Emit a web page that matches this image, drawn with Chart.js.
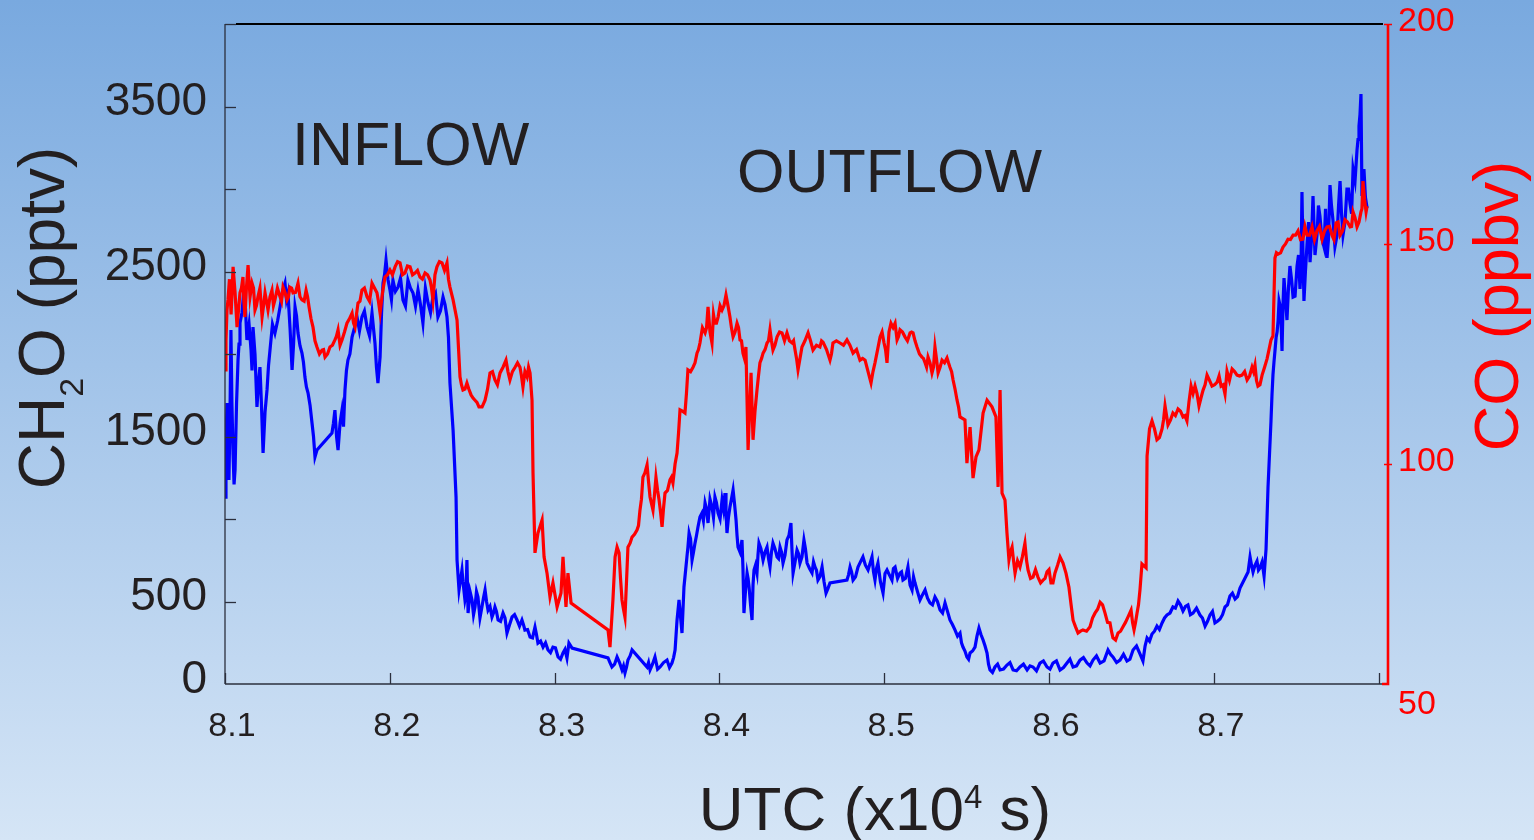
<!DOCTYPE html>
<html>
<head>
<meta charset="utf-8">
<script src="https://cdn.jsdelivr.net/npm/chart.js@4.4.1/dist/chart.umd.min.js"></script>
<style>
  html, body { margin: 0; padding: 0; }
  body {
    width: 1534px; height: 840px; overflow: hidden;
    background: linear-gradient(to bottom, #79a9df 0%, #d5e5f6 100%);
  }
  canvas { display: block; }
</style>
</head>
<body>
<canvas id="myChart" width="1534" height="840"></canvas>
<script>
// UTC in units of 10^4 s
const ch2oTime = [
  8.1000, 8.1012, 8.1024, 8.1036, 8.1049, 8.1061, 8.1079, 8.1091, 8.1115, 8.1133,
  8.1158, 8.1170, 8.1194, 8.1212, 8.1231, 8.1255, 8.1273, 8.1303, 8.1334, 8.1364,
  8.1382, 8.1407, 8.1425, 8.1443, 8.1467, 8.1485, 8.1504, 8.1528, 8.1546, 8.1558,
  8.1649, 8.1667, 8.1686, 8.1710, 8.1728, 8.1746, 8.1771, 8.1801, 8.1831, 8.1862,
  8.1892, 8.1910, 8.1928, 8.1941, 8.1959, 8.1977, 8.2001, 8.2019, 8.2050, 8.2080,
  8.2110, 8.2141, 8.2171, 8.2201, 8.2232, 8.2262, 8.2292, 8.2323, 8.2347, 8.2365,
  8.2384, 8.2402, 8.2408, 8.2420, 8.2438, 8.2456, 8.2468, 8.2475, 8.2499, 8.2517,
  8.2535, 8.2559, 8.2578, 8.2596, 8.2620, 8.2638, 8.2657, 8.2687, 8.2711, 8.2742,
  8.2772, 8.2802, 8.2820, 8.2851, 8.2881, 8.2899, 8.2930, 8.2960, 8.2990, 8.3021,
  8.3051, 8.3075, 8.3087, 8.3106, 8.3324, 8.3348, 8.3379, 8.3409, 8.3427, 8.3445,
  8.3470, 8.3561, 8.3579, 8.3609, 8.3640, 8.3682, 8.3712, 8.3731, 8.3743, 8.3755,
  8.3773, 8.3785, 8.3803, 8.3816, 8.3834, 8.3852, 8.3870, 8.3894, 8.3913, 8.3931,
  8.3955, 8.3973, 8.3992, 8.4016, 8.4034, 8.4046, 8.4064, 8.4083, 8.4101, 8.4113,
  8.4137, 8.4149, 8.4168, 8.4180, 8.4198, 8.4210, 8.4228, 8.4240, 8.4265, 8.4289,
  8.4307, 8.4325, 8.4350, 8.4368, 8.4386, 8.4410, 8.4434, 8.4447, 8.4471, 8.4489,
  8.4513, 8.4532, 8.4562, 8.4580, 8.4598, 8.4623, 8.4647, 8.4671, 8.4774, 8.4793,
  8.4811, 8.4841, 8.4871, 8.4902, 8.4926, 8.4944, 8.4962, 8.4993, 8.5017, 8.5047,
  8.5066, 8.5096, 8.5114, 8.5144, 8.5169, 8.5187, 8.5217, 8.5248, 8.5278, 8.5308,
  8.5339, 8.5369, 8.5399, 8.5430, 8.5460, 8.5478, 8.5502, 8.5521, 8.5551, 8.5575,
  8.5600, 8.5624, 8.5642, 8.5672, 8.5703, 8.5745, 8.5782, 8.5824, 8.5867, 8.5903,
  8.5945, 8.5988, 8.6024, 8.6067, 8.6109, 8.6146, 8.6188, 8.6231, 8.6267, 8.6310,
  8.6358, 8.6388, 8.6431, 8.6473, 8.6510, 8.6552, 8.6570, 8.6595, 8.6625, 8.6655,
  8.6686, 8.6716, 8.6752, 8.6783, 8.6813, 8.6843, 8.6874, 8.6916, 8.6947, 8.6977,
  8.7007, 8.7038, 8.7068, 8.7098, 8.7129, 8.7159, 8.7208, 8.7220, 8.7238, 8.7262,
  8.7280, 8.7305, 8.7317, 8.7329, 8.7347, 8.7359, 8.7371, 8.7384, 8.7396, 8.7414,
  8.7426, 8.7444, 8.7462, 8.7481, 8.7505, 8.7523, 8.7535, 8.7547, 8.7566, 8.7584,
  8.7602, 8.7626, 8.7644, 8.7669, 8.7687, 8.7705, 8.7723, 8.7748, 8.7766, 8.7784,
  8.7808, 8.7827, 8.7845, 8.7869, 8.7881, 8.7893, 8.7899, 8.7911, 8.7930
];
// CH2O, pptv
const ch2o = [
  1133, 1703, 1236, 2145, 1388, 1297, 1963, 2188, 2388, 2085,
  2024, 2163, 1679, 1921, 1400, 1782, 2024, 2127, 2285, 2430,
  2369, 1903, 2285, 2127, 2006, 1860, 1763, 1582, 1376, 1418,
  1521, 1660, 1418, 1660, 1782, 1963, 2103, 2224, 2224, 2163,
  2248, 2066, 1824, 1982, 2430, 2569, 2388, 2448, 2406, 2327,
  2448, 2369, 2388, 2188, 2309, 2345, 2224, 2345, 2224, 1824,
  1539, 1133, 751, 570, 691, 509, 751, 430, 509, 467,
  527, 467, 570, 448, 406, 467, 388, 430, 309, 406,
  388, 388, 327, 285, 345, 248, 224, 206, 224, 164,
  188, 158, 248, 218, 158, 103, 164, 85, 67, 145,
  206, 103, 85, 164, 103, 145, 127, 206, 388, 509,
  309, 588, 770, 915, 751, 854, 951, 1036, 1097, 976,
  1073, 1133, 1036, 1115, 1157, 915, 1073, 1176, 994, 830,
  873, 430, 673, 588, 388, 691, 673, 854, 751, 830,
  709, 854, 770, 830, 733, 873, 976, 673, 812, 733,
  873, 733, 673, 709, 630, 709, 551, 612, 630, 709,
  630, 709, 770, 691, 770, 630, 733, 551, 691, 630,
  709, 673, 630, 709, 570, 612, 509, 570, 491, 527,
  448, 491, 388, 327, 309, 224, 164, 188, 224, 339,
  267, 188, 85, 103, 85, 115, 85, 103, 85, 103,
  127, 103, 127, 85, 127, 103, 145, 127, 145, 127,
  206, 164, 145, 139, 206, 182, 139, 279, 303, 351,
  370, 418, 467, 503, 442, 479, 430, 418, 351, 418,
  370, 394, 467, 533, 515, 582, 679, 770, 679, 745,
  703, 654, 818, 1194, 1594, 1873, 2018, 2133, 2321, 2018,
  2460, 2206, 2533, 2345, 2533, 2394, 2982, 2321, 2672, 2557,
  2957, 2721, 2836, 2648, 2582, 3024, 2812, 2721, 3048, 2721,
  3000, 2909, 3121, 3236, 3381, 3575, 2957, 3121, 2885
];
// extra CH2O readings from the noisy stretches
const ch2oFineTime = [
  8.1006, 8.1030, 8.1042, 8.1055, 8.1070, 8.1085, 8.1103, 8.1124, 8.1146, 8.1164,
  8.1182, 8.1203, 8.1221, 8.1243, 8.1264, 8.1288, 8.1319, 8.1349, 8.1373, 8.1395,
  8.1416, 8.1434, 8.1455, 8.1476, 8.1494, 8.1516, 8.1537,
  8.1658, 8.1677, 8.1698, 8.1719, 8.1737, 8.1758, 8.1786, 8.1816, 8.1846, 8.1877,
  8.1919, 8.1950, 8.1968, 8.1989, 8.2010, 8.2034, 8.2065, 8.2095, 8.2125, 8.2156,
  8.2186, 8.2216, 8.2247, 8.2277, 8.2307, 8.2335, 8.2356,
  8.2444, 8.2462, 8.2487, 8.2508, 8.2526, 8.2547, 8.2568, 8.2587, 8.2608, 8.2629,
  8.2647, 8.2672, 8.2699, 8.2727, 8.2757, 8.2787, 8.2811, 8.2836, 8.2866, 8.2890,
  8.2915, 8.2945, 8.2975, 8.3005, 8.3036, 8.3063,
  8.3336, 8.3364, 8.3394, 8.3418, 8.3436, 8.3458, 8.3570, 8.3594, 8.3625, 8.3661,
  8.3697, 8.3722,
  8.3809, 8.3825, 8.3843, 8.3861, 8.3882, 8.3903, 8.3922, 8.3943, 8.3964, 8.3982,
  8.4004, 8.4025, 8.4040, 8.4055, 8.4073, 8.4092, 8.4107, 8.4125, 8.4143, 8.4158,
  8.4174, 8.4189, 8.4204, 8.4219, 8.4234, 8.4252, 8.4277, 8.4298, 8.4316, 8.4337,
  8.4359, 8.4377, 8.4398, 8.4422, 8.4440, 8.4459, 8.4480, 8.4501, 8.4522, 8.4547,
  8.4571, 8.4589, 8.4610, 8.4635, 8.4659,
  8.4783, 8.4802, 8.4826, 8.4856, 8.4886, 8.4914, 8.4935, 8.4953, 8.4977, 8.5005,
  8.5032, 8.5056, 8.5081, 8.5105, 8.5129, 8.5157, 8.5178, 8.5202, 8.5232, 8.5263,
  8.5293, 8.5323, 8.5354, 8.5384, 8.5414, 8.5445, 8.5469, 8.5490, 8.5512, 8.5536,
  8.5563, 8.5587, 8.5612, 8.5633,
  8.5657, 8.5688, 8.5724, 8.5763, 8.5803, 8.5845, 8.5885, 8.5924, 8.5966, 8.6006,
  8.6045, 8.6088, 8.6127, 8.6167, 8.6209, 8.6249, 8.6288, 8.6334, 8.6373, 8.6410,
  8.6452, 8.6491, 8.6531, 8.6583, 8.6610, 8.6640, 8.6670, 8.6701, 8.6734, 8.6767,
  8.6798, 8.6828, 8.6858, 8.6895, 8.6931, 8.6962, 8.6992, 8.7022, 8.7053, 8.7083,
  8.7113, 8.7144, 8.7229, 8.7250, 8.7271, 8.7293,
  8.7353, 8.7365, 8.7378, 8.7390, 8.7405, 8.7420, 8.7435, 8.7453, 8.7472, 8.7493,
  8.7514, 8.7529, 8.7541, 8.7556, 8.7575, 8.7593, 8.7614, 8.7635, 8.7656, 8.7678,
  8.7696, 8.7714, 8.7735, 8.7757, 8.7775, 8.7796, 8.7817, 8.7836, 8.7857, 8.7875,
  8.7887, 8.7905, 8.7920
];
const ch2oFine = [
  1450, 1600, 1700, 1210, 1700, 2060, 2250, 2280, 2180, 1900,
  2000, 1820, 1700, 1650, 1930, 2180, 2200, 2380, 2330, 2150,
  2060, 2230, 2050, 1950, 1800, 1690, 1500,
  1580, 1500, 1580, 1560, 1900, 2000, 2160, 2140, 2260, 2110,
  1920, 2250, 2480, 2450, 2330, 2380, 2460, 2290, 2400, 2290,
  2300, 2400, 2250, 2370, 2260, 2300, 2100,
  620, 540, 560, 420, 560, 400, 520, 500, 470, 430,
  440, 380, 400, 360, 420, 350, 360, 330, 280, 300,
  260, 250, 190, 220, 150, 210,
  130, 120, 130, 110, 100, 170, 130, 120, 90, 130,
  100, 160,
  830, 880, 800, 900, 1012, 990, 1060, 1120, 1010, 1100,
  1000, 1060, 1050, 1010, 1120, 1090, 900, 800, 700, 560,
  640, 480, 600, 720, 780, 820, 800, 760, 800, 820,
  760, 800, 780, 900, 820, 740, 790, 770, 820, 700,
  740, 690, 650, 620, 580,
  660, 680, 650, 740, 720, 730, 680, 700, 620, 670,
  660, 700, 640, 680, 640, 600, 650, 560, 540, 520,
  480, 500, 430, 440, 360, 290, 250, 200, 150, 200,
  290, 300, 230, 120,
  70, 120, 90, 130, 80, 120, 110, 80, 140, 90,
  140, 100, 150, 110, 160, 110, 170, 140, 180, 130,
  180, 150, 230, 230, 260, 320, 330, 400, 430, 460,
  480, 470, 420, 460, 400, 380, 440, 380, 420, 480,
  550, 530, 720, 720, 690, 740,
  1750, 1950, 2100, 2200, 2280, 2300, 2330, 2400, 2450, 2350,
  2600, 2500, 2620, 2500, 2800, 2700, 2600, 2900, 2700, 2880,
  2700, 2900, 2650, 2900, 2850, 2800, 3000, 2850, 3050, 3300,
  3450, 3000, 2950
];

const coTime = [
  8.1000, 8.1018, 8.1049, 8.1073, 8.1091, 8.1109, 8.1121, 8.1140, 8.1164, 8.1182,
  8.1200, 8.1225, 8.1243, 8.1261, 8.1285, 8.1303, 8.1334, 8.1352, 8.1376, 8.1394,
  8.1413, 8.1443, 8.1467, 8.1492, 8.1510, 8.1534, 8.1558, 8.1589, 8.1607, 8.1637,
  8.1667, 8.1686, 8.1710, 8.1740, 8.1771, 8.1789, 8.1807, 8.1831, 8.1862, 8.1892,
  8.1922, 8.1941, 8.1971, 8.2001, 8.2032, 8.2062, 8.2092, 8.2123, 8.2153, 8.2183,
  8.2214, 8.2244, 8.2262, 8.2286, 8.2317, 8.2347, 8.2365, 8.2384, 8.2408, 8.2426,
  8.2444, 8.2468, 8.2493, 8.2517, 8.2541, 8.2578, 8.2608, 8.2638, 8.2669, 8.2705,
  8.2729, 8.2760, 8.2790, 8.2808, 8.2833, 8.2851, 8.2863, 8.2869, 8.2881, 8.2899,
  8.2924, 8.2936, 8.2954, 8.2972, 8.2990, 8.3015, 8.3039, 8.3051, 8.3069, 8.3081,
  8.3100, 8.3324, 8.3336, 8.3354, 8.3367, 8.3379, 8.3391, 8.3409, 8.3427, 8.3445,
  8.3470, 8.3500, 8.3518, 8.3536, 8.3561, 8.3579, 8.3597, 8.3615, 8.3634, 8.3652,
  8.3670, 8.3700, 8.3718, 8.3743, 8.3761, 8.3791, 8.3809, 8.3840, 8.3864, 8.3882,
  8.3913, 8.3931, 8.3955, 8.3973, 8.3992, 8.4016, 8.4040, 8.4064, 8.4083, 8.4107,
  8.4125, 8.4143, 8.4161, 8.4174, 8.4192, 8.4204, 8.4228, 8.4246, 8.4265, 8.4289,
  8.4307, 8.4325, 8.4350, 8.4380, 8.4410, 8.4441, 8.4459, 8.4477, 8.4501, 8.4538,
  8.4568, 8.4610, 8.4629, 8.4671, 8.4689, 8.4732, 8.4774, 8.4811, 8.4853, 8.4884,
  8.4920, 8.4944, 8.4975, 8.4999, 8.5017, 8.5041, 8.5066, 8.5078, 8.5096, 8.5126,
  8.5157, 8.5175, 8.5199, 8.5229, 8.5248, 8.5266, 8.5290, 8.5308, 8.5327, 8.5351,
  8.5381, 8.5399, 8.5418, 8.5442, 8.5460, 8.5490, 8.5502, 8.5521, 8.5539, 8.5557,
  8.5575, 8.5600, 8.5624, 8.5654, 8.5678, 8.5691, 8.5703, 8.5715, 8.5733, 8.5745,
  8.5757, 8.5776, 8.5794, 8.5824, 8.5854, 8.5873, 8.5903, 8.5933, 8.5964, 8.5988,
  8.6012, 8.6036, 8.6067, 8.6085, 8.6103, 8.6121, 8.6146, 8.6176, 8.6206, 8.6249,
  8.6279, 8.6310, 8.6340, 8.6370, 8.6388, 8.6419, 8.6449, 8.6479, 8.6498, 8.6516,
  8.6534, 8.6552, 8.6564, 8.6589, 8.6595, 8.6625, 8.6655, 8.6686, 8.6704, 8.6722,
  8.6752, 8.6783, 8.6813, 8.6837, 8.6862, 8.6886, 8.6910, 8.6935, 8.6959, 8.6989,
  8.7020, 8.7044, 8.7068, 8.7080, 8.7111, 8.7141, 8.7171, 8.7202, 8.7232, 8.7250,
  8.7268, 8.7293, 8.7323, 8.7347, 8.7359, 8.7371, 8.7390, 8.7420, 8.7450, 8.7481,
  8.7511, 8.7541, 8.7566, 8.7596, 8.7626, 8.7657, 8.7687, 8.7717, 8.7742, 8.7766,
  8.7796, 8.7827, 8.7845, 8.7869, 8.7893, 8.7905, 8.7924, 8.7930
];
// CO, ppbv
const co = [
  121.4, 137.3, 144.8, 131.1, 138.9, 142.5, 133.4, 145.2, 141.1, 135.0,
  138.0, 133.4, 138.9, 135.0, 139.5, 137.3, 138.0, 140.2, 137.3, 140.2,
  138.9, 141.1, 137.3, 139.5, 135.7, 131.1, 126.6, 125.9, 124.3, 126.6,
  128.2, 130.5, 128.2, 132.0, 134.3, 131.1, 136.6, 139.5, 138.0, 141.1,
  138.9, 134.3, 142.5, 144.1, 144.8, 145.7, 143.4, 144.8, 143.4, 142.5,
  143.4, 141.8, 137.3, 144.8, 145.7, 145.7, 140.2, 137.3, 132.7, 119.8,
  116.8, 118.4, 115.7, 114.5, 113.0, 114.5, 120.7, 119.1, 120.7, 123.6,
  119.1, 122.0, 122.0, 117.5, 119.8, 120.7, 114.5, 98.0, 79.8, 84.3,
  87.3, 78.9, 75.2, 69.8, 73.0, 67.5, 70.7, 78.9, 67.5, 75.2,
  68.4, 62.3, 58.4, 69.1, 78.9, 81.1, 79.8, 69.1, 65.2, 81.1,
  83.4, 85.0, 89.5, 97.0, 99.8, 92.5, 89.5, 97.0, 91.8, 85.7,
  93.4, 96.4, 95.7, 102.5, 112.3, 111.6, 121.4, 122.0, 125.2, 127.5,
  129.8, 135.7, 127.5, 132.0, 133.4, 135.0, 138.4, 133.4, 128.9, 132.0,
  128.2, 125.2, 126.6, 103.2, 120.7, 105.5, 116.8, 123.0, 125.2, 127.5,
  130.5, 125.9, 128.9, 129.8, 129.8, 127.5, 125.9, 121.4, 126.6, 129.8,
  125.9, 126.6, 127.7, 123.6, 127.5, 127.5, 128.2, 125.2, 123.6, 123.6,
  118.4, 123.0, 128.9, 127.5, 123.0, 132.0, 132.0, 128.2, 130.5, 128.9,
  129.8, 129.8, 126.6, 124.3, 123.0, 124.3, 120.7, 126.6, 120.7, 123.6,
  124.1, 122.0, 119.1, 114.5, 110.7, 110.0, 100.2, 108.4, 96.8, 101.6,
  103.2, 111.6, 114.5, 113.0, 110.7, 94.8, 116.8, 93.4, 91.8, 84.3,
  78.2, 81.1, 75.2, 76.6, 82.0, 75.9, 74.3, 74.3, 73.6, 75.5,
  73.0, 75.2, 78.9, 77.5, 75.2, 72.0, 64.5, 61.6, 62.3, 63.0,
  66.1, 68.6, 66.1, 63.9, 60.5, 61.6, 63.0, 65.2, 66.8, 62.3,
  66.1, 71.4, 77.3, 76.4, 101.8, 109.8, 105.5, 108.0, 113.2, 108.9,
  111.6, 112.5, 110.7, 109.8, 117.7, 117.7, 113.2, 116.8, 120.2, 117.7,
  118.6, 117.7, 115.9, 121.1, 121.6, 120.2, 120.2, 119.1, 122.0, 122.5,
  117.7, 120.2, 123.9, 128.2, 129.1, 146.8, 147.7, 149.3, 151.1, 152.0,
  153.0, 151.1, 152.0, 153.9, 153.0, 151.1, 153.9, 152.0, 154.8, 152.0,
  155.5, 153.9, 157.3, 153.9, 157.3, 164.3, 157.3, 158.6
];
// extra CO readings from the noisy stretches
const coFineTime = [
  8.1006, 8.1012, 8.1027, 8.1037, 8.1061, 8.1082, 8.1100, 8.1115, 8.1130, 8.1152,
  8.1173, 8.1191, 8.1212, 8.1234, 8.1252, 8.1273, 8.1294, 8.1318, 8.1343, 8.1364,
  8.1385, 8.1404, 8.1428, 8.1455, 8.1480, 8.1501, 8.1522, 8.1546, 8.1573, 8.1598,
  8.1622, 8.1652, 8.1676, 8.1698, 8.1725, 8.1755, 8.1780, 8.1798, 8.1819, 8.1846,
  8.1877, 8.1907, 8.1931, 8.1956, 8.1986, 8.2016, 8.2047, 8.2077, 8.2107, 8.2138,
  8.2168, 8.2198, 8.2229, 8.2253, 8.2274, 8.2301, 8.2332, 8.2356,
  8.2435, 8.2456, 8.2480, 8.2505, 8.2529, 8.2560, 8.2593, 8.2623, 8.2653, 8.2687,
  8.2717, 8.2744, 8.2775, 8.2799, 8.2820, 8.2842,
  8.3400, 8.3418, 8.3436, 8.3458, 8.3485, 8.3509, 8.3527, 8.3548, 8.3570, 8.3588,
  8.3606, 8.3625, 8.3643, 8.3661, 8.3685, 8.3709, 8.3731, 8.3752, 8.3776, 8.3800,
  8.3825, 8.3852, 8.3873, 8.3897, 8.3922, 8.3943, 8.3964, 8.3982, 8.4004, 8.4028,
  8.4052, 8.4073, 8.4095, 8.4116, 8.4134, 8.4152,
  8.4216, 8.4237, 8.4256, 8.4277, 8.4298, 8.4316, 8.4337, 8.4365, 8.4395, 8.4425,
  8.4450, 8.4468, 8.4489, 8.4519, 8.4553, 8.4589, 8.4620, 8.4650, 8.4680, 8.4710,
  8.4753, 8.4792, 8.4832, 8.4869, 8.4902, 8.4932, 8.4960, 8.4987, 8.5008, 8.5029,
  8.5054, 8.5087, 8.5111, 8.5141, 8.5166, 8.5187, 8.5214, 8.5238, 8.5257, 8.5278,
  8.5299, 8.5317, 8.5339, 8.5366, 8.5390, 8.5409, 8.5430, 8.5451,
  8.5766, 8.5785, 8.5809, 8.5839, 8.5864, 8.5888, 8.5918, 8.5949, 8.5976, 8.6000,
  8.6024, 8.6052, 8.6134, 8.6161, 8.6191, 8.6228, 8.6264, 8.6295, 8.6325, 8.6355,
  8.6379, 8.6404, 8.6434, 8.6464, 8.6507, 8.6525, 8.6543,
  8.6610, 8.6640, 8.6670, 8.6695, 8.6737, 8.6767, 8.6798, 8.6825, 8.6849, 8.6874,
  8.6898, 8.6922, 8.6947, 8.6974, 8.7005, 8.7032, 8.7056, 8.7095, 8.7126, 8.7156,
  8.7187, 8.7217, 8.7241, 8.7259, 8.7280, 8.7308, 8.7335,
  8.7380, 8.7405, 8.7435, 8.7465, 8.7496, 8.7526, 8.7553, 8.7581, 8.7611, 8.7641,
  8.7672, 8.7702, 8.7729, 8.7754, 8.7781, 8.7811, 8.7836, 8.7857, 8.7881, 8.7899,
  8.7915
];
const coFine = [
  128, 135, 142, 134, 139, 135, 140, 137, 140, 138,
  140, 136, 140, 136, 137, 138, 136, 140, 137, 139,
  138, 140, 139, 138, 137, 138, 133, 128, 125, 126,
  125, 127, 129, 127, 130, 133, 132, 134, 137, 140,
  137, 140, 137, 139, 143, 143, 146, 143, 145, 143,
  144, 142, 143, 140, 143, 146, 144, 142,
  118, 117, 117, 115, 114, 113, 117, 121, 118, 122,
  121, 121, 123, 120, 121, 122,
  74, 67, 73, 82, 84, 86, 92, 98, 96, 91,
  93, 94, 89, 90, 94, 97, 100, 107, 112, 116,
  121, 123, 126, 131, 131, 130, 134, 132, 136, 136,
  136, 131, 130, 131, 128, 124,
  112, 120, 124, 126, 128, 128, 127, 130, 128, 128,
  128, 124, 124, 128, 128, 127, 128, 126, 125, 128,
  127, 127, 126, 124, 121, 121, 126, 130, 126, 130,
  131, 129, 130, 128, 130, 128, 125, 124, 122, 123,
  122, 124, 122, 123, 123, 121, 117, 113,
  80, 78, 78, 79, 78, 74, 76, 73, 74, 76,
  73, 77, 68, 63, 62, 62, 65, 67, 68, 64,
  62, 60, 62, 64, 64, 64, 68,
  108, 108, 106, 110, 110, 111, 112, 111, 114, 116,
  116, 115, 118, 119, 118, 120, 118, 119, 121, 120,
  121, 120, 121, 119, 118, 122, 126,
  148, 148, 150, 151, 152, 151, 154, 152, 151, 154,
  153, 154, 151, 155, 153, 155, 154, 156, 155, 158,
  160
];

const xLabelTicks = [8.1, 8.2, 8.3, 8.4, 8.5, 8.6, 8.7];
const xTickMarks = [8.1, 8.2, 8.3, 8.4, 8.5, 8.6, 8.7, 8.8];
const ch2oLabelTicks = [0, 500, 1500, 2500, 3500];
const ch2oTickMarks = [500, 1000, 1500, 2000, 2500, 3000, 3500, 4000];
const coLabelTicks = [100, 150, 200];
const coTickMarks = [100, 150, 200];

const FONT = "'Liberation Sans', Arial, Helvetica, sans-serif";
const DARK = '#231f20';
const RED = '#ff0000';
const BLUE = '#0000ff';

function toPoints(t1, v1, t2, v2) {
  const pts = t1.map((t, i) => ({ x: t, y: v1[i] }))
    .concat(t2.map((t, i) => ({ x: t, y: v2[i] })));
  return pts.sort((a, b) => a.x - b.x);
}

function drawRunText(c, parts, cx, baseline, align) {
  // parts: [text, size, dy]
  let widths = parts.map(p => { c.font = p[1] + 'px ' + FONT; return c.measureText(p[0]).width; });
  let total = widths.reduce((a, b) => a + b, 0);
  let x = align === 'left' ? cx : cx - total / 2;
  parts.forEach((p, i) => {
    c.font = p[1] + 'px ' + FONT;
    c.fillText(p[0], x, baseline + p[2]);
    x += widths[i];
  });
}

const decor = {
  id: 'decor',
  afterDraw(chart) {
    const c = chart.ctx;
    const a = chart.chartArea;
    const xs = chart.scales.x, ys = chart.scales.y, y1 = chart.scales.y1;
    c.save();
    c.lineCap = 'butt';

    // left axis
    c.strokeStyle = '#2b2f3d';
    c.lineWidth = 1.3;
    c.beginPath(); c.moveTo(a.left, a.top); c.lineTo(a.left, a.bottom); c.stroke();
    ch2oTickMarks.forEach(v => {
      const py = Math.round(ys.getPixelForValue(v)) + 0.5;
      c.beginPath(); c.moveTo(a.left, py); c.lineTo(a.left + 11, py); c.stroke();
    });
    // bottom axis
    c.lineWidth = 1.6;
    c.beginPath(); c.moveTo(a.left, a.bottom); c.lineTo(a.right - 4, a.bottom); c.stroke();
    c.lineWidth = 1.3;
    xTickMarks.forEach(v => {
      const px = Math.round(xs.getPixelForValue(v)) + 0.5;
      c.beginPath(); c.moveTo(px, a.bottom); c.lineTo(px, a.bottom - 11); c.stroke();
    });
    // top frame
    c.strokeStyle = '#000';
    c.lineWidth = 2.2;
    c.beginPath(); c.moveTo(a.left + 11, a.top); c.lineTo(a.right - 5, a.top); c.stroke();

    // right CO axis
    c.strokeStyle = RED;
    c.lineWidth = 2.6;
    c.beginPath(); c.moveTo(a.right, a.top); c.lineTo(a.right, a.bottom); c.lineTo(a.right - 6, a.bottom); c.stroke();
    c.lineWidth = 1.5;
    coTickMarks.forEach(v => {
      const py = Math.round(y1.getPixelForValue(v)) + 0.5;
      c.beginPath(); c.moveTo(a.right - 4, py); c.lineTo(a.right + 4, py); c.stroke();
    });
    c.fillStyle = RED;
    c.font = '34px ' + FONT;
    c.textAlign = 'left';
    c.textBaseline = 'middle';
    c.fillText('50', a.right + 10, a.bottom + 21);

    // axis titles
    c.textBaseline = 'alphabetic';
    c.fillStyle = DARK;
    c.save();
    c.translate(64, 318);
    c.rotate(-Math.PI / 2);
    drawRunText(c, [['CH', 64, 0], ['2', 34, 19], ['O (pptv)', 64, 0]], 0, 0);
    c.restore();

    c.fillStyle = RED;
    c.save();
    c.translate(1518, 306);
    c.rotate(-Math.PI / 2);
    drawRunText(c, [['CO (ppbv)', 63, 0]], 0, 0);
    c.restore();

    c.fillStyle = DARK;
    drawRunText(c, [['UTC (x10', 62, 0], ['4', 33, -22], [' s)', 62, 0]], 875, 830);

    // region labels
    drawRunText(c, [['INFLOW', 61, 0]], 292, 165, 'left');
    drawRunText(c, [['OUTFLOW', 61, 0]], 737, 192, 'left');
    c.restore();
  }
};

function fixVertical(width) {
  return s => { s.width = width; s.paddingTop = 0; s.paddingBottom = 0; };
}

const ctx = document.getElementById('myChart');

new Chart(ctx, {
  type: 'line',
  data: {
    datasets: [{
      label: 'CO (ppbv)',
      data: toPoints(coTime, co, coFineTime, coFine),
      yAxisID: 'y1',
      borderColor: RED,
      borderWidth: 3.2,
      pointRadius: 0,
      tension: 0,
      order: 0
    }, {
      label: 'CH2O (pptv)',
      data: toPoints(ch2oTime, ch2o, ch2oFineTime, ch2oFine),
      yAxisID: 'y',
      borderColor: BLUE,
      borderWidth: 3.2,
      pointRadius: 0,
      tension: 0,
      order: 1
    }]
  },
  options: {
    responsive: false,
    animation: false,
    layout: { padding: { top: 24, left: 0, right: 0, bottom: 0 } },
    plugins: { legend: { display: false }, tooltip: { enabled: false } },
    scales: {
      x: {
        type: 'linear',
        min: 8.1,
        max: 8.8057,
        grid: { display: false, drawTicks: false },
        border: { display: false },
        afterFit(s) { s.height = 156; s.paddingLeft = 0; s.paddingRight = 0; },
        afterBuildTicks(s) { s.ticks = xLabelTicks.map(v => ({ value: v })); },
        ticks: {
          color: DARK,
          font: { family: FONT, size: 34 },
          padding: 22,
          labelOffset: 7,
          maxRotation: 0,
          autoSkip: false,
          callback: v => v.toFixed(1)
        }
      },
      y: {
        position: 'left',
        min: 0,
        max: 4000,
        grid: { display: false, drawTicks: false },
        border: { display: false },
        afterFit: fixVertical(225),
        afterBuildTicks(s) { s.ticks = ch2oLabelTicks.map(v => ({ value: v })); },
        ticks: {
          color: DARK,
          font: { family: FONT, size: 46 },
          padding: 18,
          labelOffset: -4,
          callback: v => String(v)
        }
      },
      y1: {
        position: 'right',
        min: 50,
        max: 200,
        grid: { display: false, drawTicks: false },
        border: { display: false },
        afterFit: fixVertical(146),
        afterBuildTicks(s) { s.ticks = coLabelTicks.map(v => ({ value: v })); },
        ticks: {
          color: RED,
          font: { family: FONT, size: 34 },
          padding: 10,
          labelOffset: -2,
          callback: v => String(v)
        }
      }
    }
  },
  plugins: [decor]
});
</script>
</body>
</html>
